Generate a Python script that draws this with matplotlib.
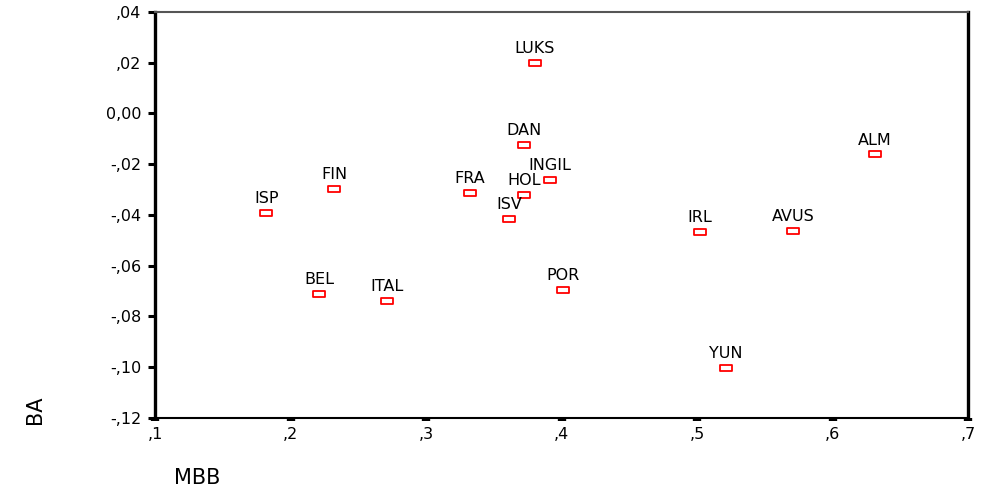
import matplotlib
matplotlib.use("Agg")
import matplotlib.pyplot as plt
from matplotlib.path import Path
from matplotlib.ticker import FixedLocator

plt.rcParams['font.family'] = ['DejaVu Sans']

# Country codes with their MBB (x) and BA (y) values
countries = ["LUKS", "DAN", "ALM", "INGIL", "FIN", "FRA", "HOL", "ISP",
             "ISV", "IRL", "AVUS", "POR", "BEL", "ITAL", "YUN"]
mbb = [0.380, 0.372, 0.631, 0.391, 0.232, 0.332, 0.372, 0.182,
       0.361, 0.502, 0.571, 0.401, 0.221, 0.271, 0.521]
ba = [0.0200, -0.0125, -0.0162, -0.0262, -0.0298, -0.0313, -0.0320, -0.0392,
      -0.0418, -0.0467, -0.0463, -0.0696, -0.0711, -0.0739, -0.1003]

x_ticks = [0.1, 0.2, 0.3, 0.4, 0.5, 0.6, 0.7]
x_tick_labels = [",1", ",2", ",3", ",4", ",5", ",6", ",7"]
y_ticks = [0.04, 0.02, 0.00, -0.02, -0.04, -0.06, -0.08, -0.10, -0.12]
y_tick_labels = [",04", ",02", "0,00", "-,02", "-,04", "-,06", "-,08", "-,10", "-,12"]

fig = plt.figure(figsize=(9.82, 4.95), dpi=100)
ax = fig.add_axes([0.158, 0.156, 0.828, 0.820])

# flat open rectangle used as the point symbol
rect = Path([(-1, -0.5), (1, -0.5), (1, 0.5), (-1, 0.5), (-1, -0.5)],
            [Path.MOVETO, Path.LINETO, Path.LINETO, Path.LINETO, Path.CLOSEPOLY])
ax.plot(mbb, ba, linestyle="none", marker=rect, markersize=9,
        markerfacecolor="white", markeredgecolor="#ff0000", markeredgewidth=1.3)

for name, x, y in zip(countries, mbb, ba):
    ax.annotate(name, (x, y), xytext=(0, 5), textcoords="offset points",
                ha="center", va="bottom", fontsize=11.5, color="black")

ax.set_xlim(0.1, 0.7)
ax.set_ylim(-0.12, 0.04)
ax.xaxis.set_major_locator(FixedLocator(x_ticks))
ax.set_xticklabels(x_tick_labels)
ax.yaxis.set_major_locator(FixedLocator(y_ticks))
ax.set_yticklabels(y_tick_labels)

ax.tick_params(axis="y", direction="out", length=5, width=2.2, pad=5,
               labelsize=11.5, colors="black")
ax.tick_params(axis="x", direction="out", length=2.5, width=6, pad=4,
               labelsize=11.5, colors="black")

ax.spines["left"].set_linewidth(2.4)
ax.spines["right"].set_linewidth(2.4)
ax.spines["bottom"].set_linewidth(1.5)
ax.spines["top"].set_linewidth(1.5)
ax.spines["top"].set_color("#555555")
for s in ("left", "right", "bottom"):
    ax.spines[s].set_color("black")

fig.text(0.036, 1 - 410 / 495, "BA", rotation=90, ha="center", va="center",
         fontsize=15)
fig.text(197 / 982, 1 - 478 / 495, "MBB", ha="center", va="center", fontsize=15)

fig.savefig("out.png", dpi=100, facecolor="white")
